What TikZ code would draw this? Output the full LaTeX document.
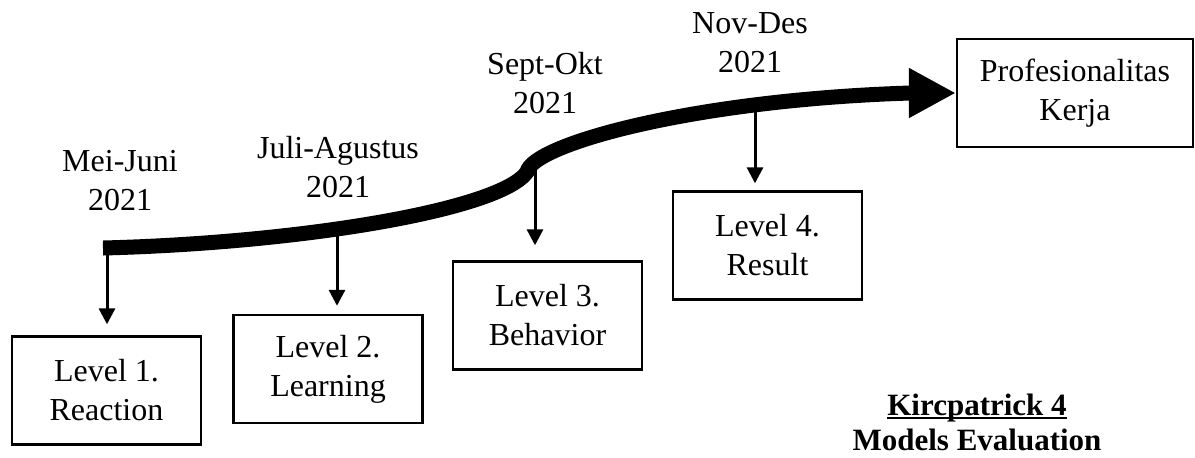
\documentclass[tikz,border=0pt]{standalone}
\usepackage{fontspec}
\setmainfont{Liberation Serif}
\usetikzlibrary{arrows.meta,positioning}

\newcommand\ulbold[1]{\setbox0\hbox{\bfseries #1}\rlap{\rule[-2.2pt]{\wd0}{1pt}}\box0}

\begin{document}
\begin{tikzpicture}[x=0.5pt,y=-0.5pt,
    font=\fontsize{16}{19.5}\selectfont,
    lvlbox/.style={draw,line width=1.2pt,minimum width=94.5pt,minimum height=54pt,align=center,inner sep=2pt},
    datetxt/.style={align=center,inner sep=0pt},
    downarr/.style={-{Triangle[length=8pt,width=8pt]},line width=1.5pt},
    bigpath/.style={line width=7.5pt,-{Triangle[length=23.5pt,width=23.5pt]}}]
    \useasboundingbox (0,0) rectangle (1195,457);

    % boxes
    \node[lvlbox] (lv1) at (106.5,390.5) {Level 1.\\Reaction};
    \node[lvlbox] (lv2) at (328,369) {Level 2.\\Learning};
    \node[lvlbox] (lv3) at (547.5,315.5) {Level 3.\\Behavior};
    \node[lvlbox] (lv4) at (767.5,245.5) {Level 4.\\Result};
    \node[lvlbox,minimum width=118pt] (prof) at (1075,93) {Profesionalitas\\Kerja};

    % periods
    \node[datetxt] (d1) at (120,181) {Mei-Juni\\2021};
    \node[datetxt] (d2) at (338,167) {Juli-Agustus\\2021};
    \node[datetxt] (d3) at (545,83) {Sept-Okt\\2021};
    \node[datetxt] (d4) at (750,43) {Nov-Des\\2021};

    % timeline
    \coordinate (s0) at (103,248);
    \draw[bigpath] (s0) .. controls (300,243) and (500,210) .. (527,172)
        .. controls (532,145) and (690,100) .. (910,93) -- (prof.west);

    \coordinate (t1) at (107,248);
    \coordinate (t2) at (337,233);
    \coordinate (t3) at (535,170);
    \coordinate (t4) at (755,107);
    \draw[downarr,shorten >=5.5pt] (t1) -- (t1 |- lv1.north);
    \draw[downarr,shorten >=4pt] (t2) -- (t2 |- lv2.north);
    \draw[downarr,shorten >=7.5pt] (t3) -- (t3 |- lv3.north);
    \draw[downarr,shorten >=3.5pt] (t4) -- (t4 |- lv4.north);

    \node[align=center,inner sep=0pt,font=\bfseries\fontsize{15.5}{17.5}\selectfont] (ttl) at (977,422)
        {\ulbold{Kircpatrick 4}\\Models Evaluation};
\end{tikzpicture}
\end{document}
